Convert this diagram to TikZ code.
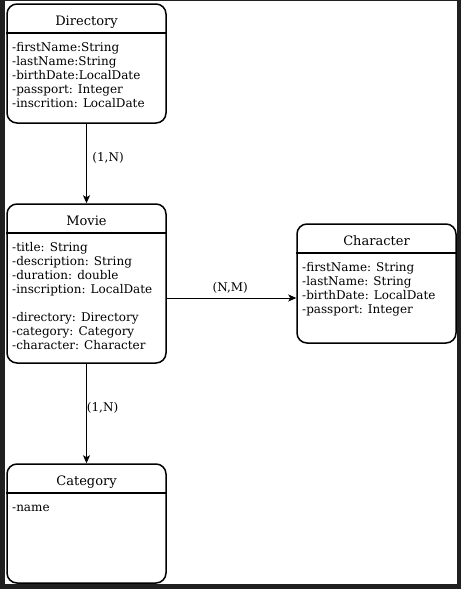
\documentclass[tikz,border=0pt]{standalone}
\usepackage{fontspec}
\setmainfont{DejaVu Serif}
\usetikzlibrary{arrows.meta}
\definecolor{framecol}{HTML}{202020}
\tikzset{
  classbox/.style={draw=black, line width=1.5pt, rounded corners=10pt, fill=white,
    minimum width=159pt, minimum height=119pt, inner sep=0pt},
  headline/.style={draw=black, line width=1.5pt},
  titletext/.style={font=\fontsize{13}{15}\selectfont, anchor=base, inner sep=0pt},
  attrtext/.style={font=\fontsize{12}{14}\selectfont, anchor=north west, align=left, inner sep=0pt},
  conn/.style={draw=black, line width=0.8pt, -{Stealth[length=8pt,width=7pt,inset=2pt]}},
  lbl/.style={font=\fontsize{12}{14}\selectfont, inner sep=0pt}
}
\begin{document}
\begin{tikzpicture}[x=1pt,y=-1pt]
\useasboundingbox (0,0) rectangle (461,589);
\fill[framecol] (0,0) rectangle (461,589);
\fill[white] (5,1) rectangle (457,584);

% Directory
\node[classbox] (dir) at (86.5,63.5) {};
\draw[headline] ([yshift=-29.5pt]dir.north west) -- ([yshift=-29.5pt]dir.north east);
\node[titletext] (dirt) at (86.5,25) {Directory};
\node[attrtext] (dira) at (12,41.2) {\strut-firstName:String\\-lastName:String\\-birthDate:LocalDate\\-passport: Integer\\-inscrition: LocalDate};

% Movie
\node[classbox, minimum height=159pt] (mov) at (86.5,283.5) {};
\draw[headline] ([yshift=-29.5pt]mov.north west) -- ([yshift=-29.5pt]mov.north east);
\node[titletext] (movt) at (86.5,225) {Movie};
\node[attrtext] (mova) at (12,241.2) {\strut-title: String\\-description: String\\-duration: double\\-inscription: LocalDate\\[14pt]-directory: Directory\\-category: Category\\-character: Character};

% Character
\node[classbox] (chr) at (376.5,283.5) {};
\draw[headline] ([yshift=-29.5pt]chr.north west) -- ([yshift=-29.5pt]chr.north east);
\node[titletext] (chrt) at (376.5,245) {Character};
\node[attrtext] (chra) at (302,261.2) {\strut-firstName: String\\-lastName: String\\-birthDate: LocalDate\\-passport: Integer};

% Category
\node[classbox] (cat) at (86.5,523.5) {};
\draw[headline] ([yshift=-29.5pt]cat.north west) -- ([yshift=-29.5pt]cat.north east);
\node[titletext] (catt) at (86.5,485) {Category};
\node[attrtext] (cata) at (12,501.2) {\strut-name};

% connectors
\draw[conn] (dir.south) -- (mov.north) node[lbl, pos=0.47, anchor=base west, xshift=5.5pt] {(1,N)};
\draw[conn] (mov.south) -- (cat.north) node[lbl, pos=0.48, anchor=base west, xshift=0pt] {(1,N)};
\draw[conn] (mov.east |- 0,298) coordinate (ms) -- (chr.west |- ms) node[lbl, pos=0.49, anchor=base, yshift=6.5pt] {(N,M)};
\end{tikzpicture}
\end{document}
